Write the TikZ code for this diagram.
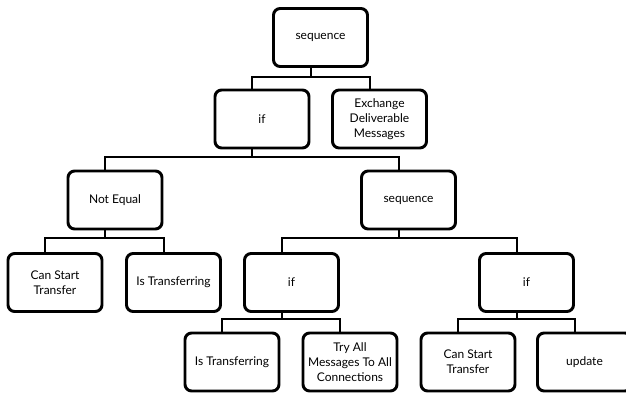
\documentclass[tikz,border=0pt]{standalone}
\usepackage{fontspec}
\setmainfont{Lato}
\begin{document}
\begin{tikzpicture}[
    x=0.75pt, y=-0.75pt,
    treebox/.style={draw=black, fill=white, line width=2.2pt, rounded corners=5pt,
      minimum width=70.5pt, minimum height=43.5pt, outer sep=0pt, inner sep=2pt,
      align=center, font=\fontsize{9}{11.25}\selectfont},
    branch/.style={draw=black, line width=1.5pt},
  ]
  \clip (0,0) rectangle (626,394);
  \fill[white] (0,0) rectangle (626,394);

  % connector lines sit slightly left of the box centres
  \def\off{-7.5pt}

  % level 1
  \node[treebox] (seqA) at (320.5,37.5) {sequence};
  % level 2
  \node[treebox] (ifA)  at (262,119) {if};
  \node[treebox] (exch) at (379.5,119) {Exchange\\Deliverable\\Messages};
  % level 3
  \node[treebox] (neq)  at (115,200) {Not Equal};
  \node[treebox] (seqB) at (408.5,200) {sequence};
  % level 4
  \node[treebox] (cstA) at (55,282.5) {Can Start\\Transfer};
  \node[treebox] (istA) at (173.5,282.5) {Is Transferring};
  \node[treebox] (ifB)  at (291.5,282.5) {if};
  \node[treebox] (ifC)  at (526.5,282.5) {if};
  % level 5
  \node[treebox] (istB) at (232,362) {Is Transferring};
  \node[treebox] (try)  at (350,362) {Try All\\Messages To All\\Connections};
  \node[treebox] (cstB) at (468,362) {Can Start\\Transfer};
  \node[treebox] (upd)  at (584.5,362) {update};

  % parent -> child elbows
  \foreach \p/\c/\d in {seqA/ifA/10, seqA/exch/10,
                        ifA/neq/9, ifA/seqB/9,
                        neq/cstA/9, neq/istA/9,
                        seqB/ifB/9, seqB/ifC/9,
                        ifB/istB/7, ifB/try/7,
                        ifC/cstB/7, ifC/upd/7}
    \draw[branch] ([xshift=\off]\p.south) -- ++(0,\d) -| ([xshift=\off]\c.north);
\end{tikzpicture}
\end{document}
